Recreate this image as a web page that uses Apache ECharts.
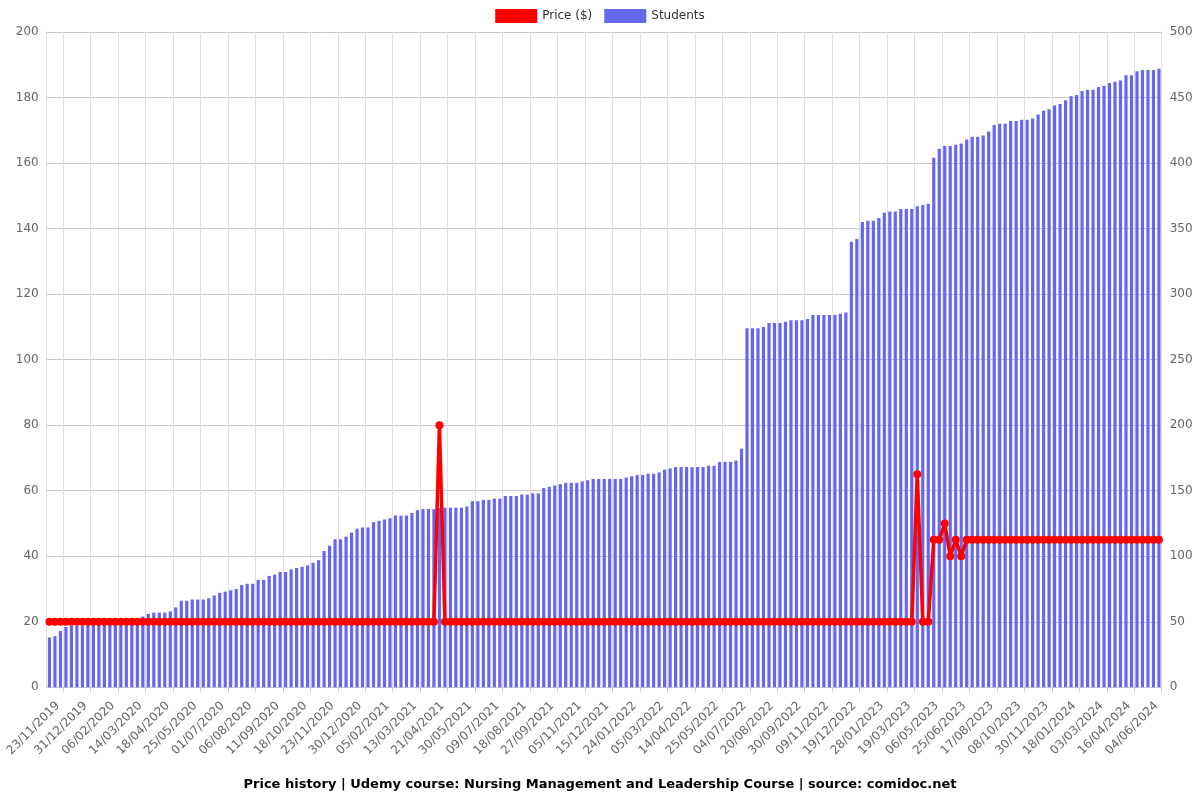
<!DOCTYPE html>
<html>
<head>
<meta charset="utf-8">
<script src="https://cdn.jsdelivr.net/npm/echarts@6/dist/echarts.min.js"></script>
<style>
html,body{margin:0;padding:0;background:#fff;}
#chart{width:1200px;height:800px;}
</style>
</head>
<body>
<div id="chart"></div>
<script>
// Visible tick labels (every 5th category)
const labelDates = [
  "23/11/2019","31/12/2019","06/02/2020","14/03/2020","18/04/2020","25/05/2020","01/07/2020","06/08/2020","11/09/2020","18/10/2020",
  "23/11/2020","30/12/2020","05/02/2021","13/03/2021","21/04/2021","30/05/2021","09/07/2021","18/08/2021","27/09/2021","05/11/2021",
  "15/12/2021","24/01/2022","05/03/2022","14/04/2022","25/05/2022","04/07/2022","20/08/2022","30/09/2022","09/11/2022","19/12/2022",
  "28/01/2023","19/03/2023","06/05/2023","25/06/2023","17/08/2023","08/10/2023","30/11/2023","18/01/2024","03/03/2024","16/04/2024",
  "04/06/2024"
];

// Price ($), left axis
const price = [
  20,20,20,20,20,20,20,20,20,20,
  20,20,20,20,20,20,20,20,20,20,
  20,20,20,20,20,20,20,20,20,20,
  20,20,20,20,20,20,20,20,20,20,
  20,20,20,20,20,20,20,20,20,20,
  20,20,20,20,20,20,20,20,20,20,
  20,20,20,20,20,20,20,20,20,20,
  20,80,20,20,20,20,20,20,20,20,
  20,20,20,20,20,20,20,20,20,20,
  20,20,20,20,20,20,20,20,20,20,
  20,20,20,20,20,20,20,20,20,20,
  20,20,20,20,20,20,20,20,20,20,
  20,20,20,20,20,20,20,20,20,20,
  20,20,20,20,20,20,20,20,20,20,
  20,20,20,20,20,20,20,20,20,20,
  20,20,20,20,20,20,20,20,65,20,
  20,45,45,50,40,45,40,45,45,45,
  45,45,45,45,45,45,45,45,45,45,
  45,45,45,45,45,45,45,45,45,45,
  45,45,45,45,45,45,45,45,45,45,
  45,45,45
];

// Students, right axis
const students = [
  38,39,43,46,47,47,47,48,48,49,
  49,50,50,51,51,52,52,54,56,57,
  57,57,58,61,66,66,67,67,67,68,
  70,72,73,74,75,78,79,79,82,82,
  85,86,88,88,90,91,92,93,95,97,
  104,108,113,113,115,118,121,122,122,126,
  127,128,129,131,131,131,133,135,136,136,
  136,137,137,137,137,137,138,142,142,143,
  143,144,144,146,146,146,147,147,148,148,
  152,153,154,155,156,156,156,157,158,159,
  159,159,159,159,159,160,161,162,162,163,
  163,164,166,167,168,168,168,168,168,168,
  169,169,172,172,172,173,182,274,274,274,
  275,278,278,278,279,280,280,280,281,284,
  284,284,284,284,285,286,340,342,355,356,
  356,358,362,363,363,365,365,365,367,368,
  369,404,411,413,413,414,415,418,420,420,
  421,424,429,430,430,432,432,433,433,434,
  437,440,441,444,445,448,451,452,455,456,
  456,458,459,461,462,463,467,467,470,471,
  471,471,472
];

const N = students.length;
const STEP = 5;

// Build full category list: labelled dates at every 5th slot, hidden in-between dates filled in
function parseD(s){const p=s.split('/');return Date.UTC(+p[2],+p[1]-1,+p[0]);}
function fmtD(t){const d=new Date(t);const dd=String(d.getUTCDate()).padStart(2,'0');const mm=String(d.getUTCMonth()+1).padStart(2,'0');return dd+'/'+mm+'/'+d.getUTCFullYear();}
const categories = [];
for (let i = 0; i < N; i++) {
  const k = Math.floor(i / STEP), r = i % STEP;
  if (r === 0 && k < labelDates.length) { categories.push(labelDates[k]); continue; }
  let a, b;
  if (k + 1 < labelDates.length) { a = parseD(labelDates[k]); b = parseD(labelDates[k + 1]); }
  else { a = parseD(labelDates[labelDates.length - 1]); b = a + (a - parseD(labelDates[labelDates.length - 2])); }
  const t = a + Math.round((b - a) / STEP / 86400000 * r) * 86400000;
  categories.push(fmtD(t));
}

const FONT = 'DejaVu Sans';
const chart = echarts.init(document.getElementById('chart'), null, {renderer: 'canvas'});
chart.setOption({
  animation: false,
  backgroundColor: '#fff',
  textStyle: {fontFamily: FONT},
  title: {
    text: 'Price history | Udemy course: Nursing Management and Leadership Course | source: comidoc.net',
    left: 'center',
    top: 773,
    textStyle: {fontSize: 13, fontWeight: 'bold', color: '#000', fontFamily: FONT}
  },
  legend: {
    top: 4,
    left: 'center',
    itemWidth: 42,
    itemHeight: 14,
    itemGap: 12,
    icon: 'rect',
    textStyle: {fontSize: 12, color: '#333', fontFamily: FONT},
    data: [{name: 'Price ($)', icon: 'rect'}, {name: 'Students', icon: 'rect'}]
  },
  grid: {left: 46.7, right: 38.3, top: 32, bottom: 112.7, containLabel: false, outerBoundsMode: 'none'},
  xAxis: {
    type: 'category',
    data: categories,
    boundaryGap: true,
    axisLine: {show: true, lineStyle: {color: '#ccc'}},
    axisTick: {show: true, interval: function (i) { return i % STEP === 3; }, lineStyle: {color: '#ccc'}},
    splitLine: {show: true, interval: function (i) { return i % STEP === 3; }, lineStyle: {color: '#e0e0e0'}},
    axisLabel: {interval: STEP - 1, rotate: 45, fontSize: 12, color: '#666', margin: 8, verticalAlign: 'top', padding: [6, 0, 0, 0], fontFamily: FONT}
  },
  yAxis: [
    {
      type: 'value', min: 0, max: 200, interval: 20, position: 'left',
      axisLine: {show: true, lineStyle: {color: '#e0e0e0'}},
      axisTick: {show: false},
      axisLabel: {fontSize: 12, color: '#666', fontFamily: FONT},
      splitLine: {show: true, lineStyle: {color: '#c8c8c8'}}
    },
    {
      type: 'value', min: 0, max: 500, interval: 50, position: 'right',
      axisLine: {show: true, lineStyle: {color: '#e0e0e0'}},
      axisTick: {show: false},
      axisLabel: {fontSize: 12, color: '#666', fontFamily: FONT},
      splitLine: {show: false}
    }
  ],
  series: [
    {
      name: 'Price ($)', type: 'line', yAxisIndex: 0, data: price,
      color: '#ff0000',
      symbol: 'circle', symbolSize: 8, showAllSymbol: true,
      lineStyle: {width: 3.5, color: '#ff0000'},
      itemStyle: {color: '#ff0000'},
      z: 5
    },
    {
      name: 'Students', type: 'bar', yAxisIndex: 1, data: students,
      color: '#6666f0',
      barWidth: '58%',
      itemStyle: {color: '#6666f0'},
      z: 2
    }
  ]
});
</script>
</body>
</html>
